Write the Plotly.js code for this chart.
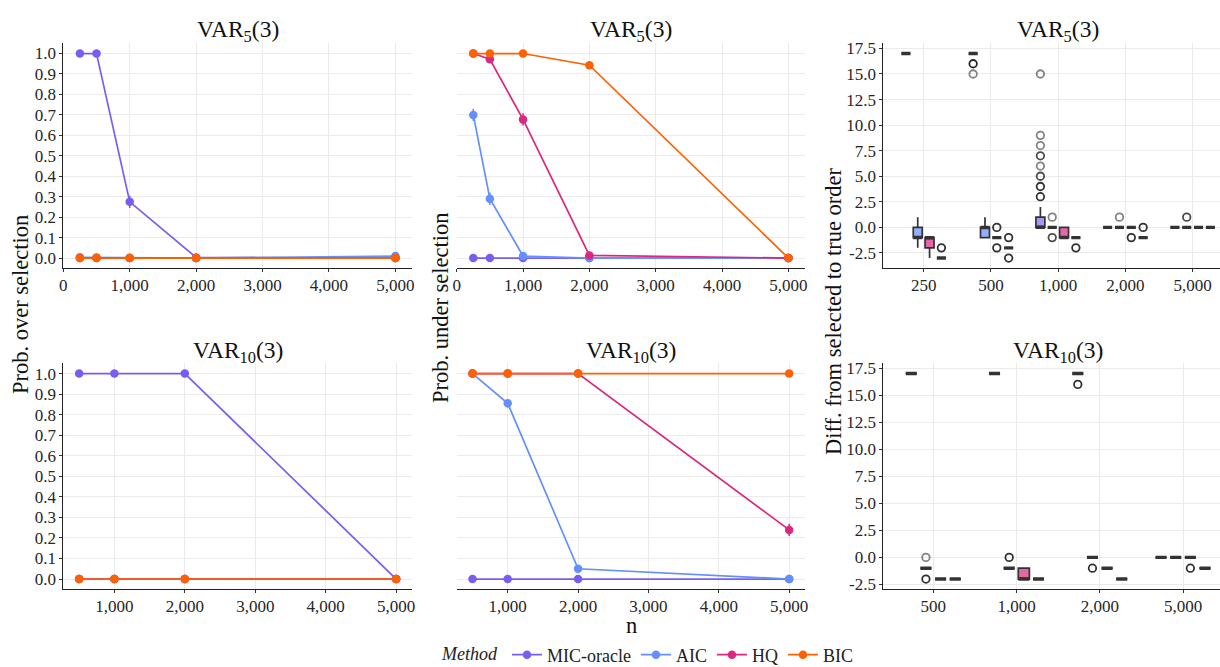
<!DOCTYPE html>
<html>
<head>
<meta charset="utf-8">
<script src="https://cdn.plot.ly/plotly-3.0.1.min.js"></script>
<style>html,body{margin:0;padding:0;background:#fff;}#chart{width:1220px;height:667px;}</style>
</head>
<body>
<div id="chart"></div>
<script>
// ---------------- DATA ----------------
const methods = ['MIC-oracle', 'AIC', 'HQ', 'BIC'];
const nVar5 = [250, 500, 1000, 2000, 5000];
const nVar10 = [500, 1000, 2000, 5000];
const nVar5Labels = ['250', '500', '1,000', '2,000', '5,000'];
const nVar10Labels = ['500', '1,000', '2,000', '5,000'];

// Prob. over selection, VAR5(3)
const overV5_MIC = [1.0, 1.0, 0.275, 0.003, 0.0];
const overV5_AIC = [0.004, 0.003, 0.002, 0.0, 0.01];
const overV5_HQ  = [0.0, 0.0, 0.0, 0.0, 0.0];
const overV5_BIC = [0.0, 0.0, 0.0, 0.0, 0.0];
const overV5_MIC_err = [0, 0, 0.03, 0.003, 0];
// Prob. under selection, VAR5(3)
const underV5_MIC = [0.0, 0.0, 0.0, 0.0, 0.0];
const underV5_AIC = [0.70, 0.29, 0.01, 0.0, 0.0];
const underV5_HQ  = [1.0, 0.972, 0.678, 0.013, 0.0];
const underV5_BIC = [1.0, 1.0, 1.0, 0.943, 0.0];
const underV5_AIC_err = [0.03, 0.03, 0.006, 0, 0];
const underV5_HQ_err  = [0, 0.01, 0.03, 0.007, 0];
const underV5_BIC_err = [0, 0, 0, 0.015, 0];
// Prob. over selection, VAR10(3)
const overV10_MIC = [1.0, 1.0, 1.0, 0.0];
const overV10_AIC = [0.0, 0.0, 0.0, 0.0];
const overV10_HQ  = [0.0, 0.0, 0.0, 0.0];
const overV10_BIC = [0.0, 0.0, 0.0, 0.0];
// Prob. under selection, VAR10(3)
const underV10_MIC = [0.0, 0.0, 0.0, 0.0];
const underV10_AIC = [1.0, 0.855, 0.05, 0.0];
const underV10_HQ  = [1.0, 1.0, 1.0, 0.239];
const underV10_BIC = [1.0, 1.0, 1.0, 1.0];
const underV10_AIC_err = [0, 0.02, 0.014, 0];
const underV10_HQ_err  = [0, 0, 0, 0.03];

// Diff. from selected to true order, VAR5(3): box stats per n
const diffV5_MIC_low = [17, 17, 0, 0, 0];
const diffV5_MIC_q1  = [17, 17, 0, 0, 0];
const diffV5_MIC_med = [17, 17, 0, 0, 0];
const diffV5_MIC_q3  = [17, 17, 1, 0, 0];
const diffV5_MIC_up  = [17, 17, 2, 0, 0];
const diffV5_AIC_low = [-2, -1, 0, 0, 0];
const diffV5_AIC_q1  = [-1, -1, 0, 0, 0];
const diffV5_AIC_med = [-1, 0, 0, 0, 0];
const diffV5_AIC_q3  = [0, 0, 0, 0, 0];
const diffV5_AIC_up  = [1, 1, 0, 0, 0];
const diffV5_HQ_low  = [-3, -1, -1, 0, 0];
const diffV5_HQ_q1   = [-2, -1, -1, 0, 0];
const diffV5_HQ_med  = [-1, -1, -1, 0, 0];
const diffV5_HQ_q3   = [-1, -1, 0, 0, 0];
const diffV5_HQ_up   = [-1, -1, 0, 0, 0];
const diffV5_BIC_low = [-3, -2, -1, -1, 0];
const diffV5_BIC_q1  = [-3, -2, -1, -1, 0];
const diffV5_BIC_med = [-3, -2, -1, -1, 0];
const diffV5_BIC_q3  = [-3, -2, -1, -1, 0];
const diffV5_BIC_up  = [-3, -2, -1, -1, 0];
// outliers VAR5(3): category index, value, number of overlapping points
const outV5_MIC_cat = [1, 1, 2, 2, 2, 2, 2, 2, 2, 2];
const outV5_MIC_val = [16, 15, 3, 4, 5, 6, 7, 8, 9, 15];
const outV5_MIC_cnt = [4, 1, 3, 3, 2, 1, 2, 1, 1, 1];
const outV5_AIC_cat = [2, 2, 3, 4];
const outV5_AIC_val = [1, -1, 1, 1];
const outV5_AIC_cnt = [1, 2, 1, 2];
const outV5_HQ_cat  = [1, 1, 3];
const outV5_HQ_val  = [0, -2, -1];
const outV5_HQ_cnt  = [3, 3, 3];
const outV5_BIC_cat = [0, 1, 1, 2, 3];
const outV5_BIC_val = [-2, -1, -3, -2, 0];
const outV5_BIC_cnt = [3, 3, 3, 3, 3];

// Diff. from selected to true order, VAR10(3)
const diffV10_MIC_low = [17, 17, 17, 0];
const diffV10_MIC_q1  = [17, 17, 17, 0];
const diffV10_MIC_med = [17, 17, 17, 0];
const diffV10_MIC_q3  = [17, 17, 17, 0];
const diffV10_MIC_up  = [17, 17, 17, 0];
const diffV10_AIC_low = [-1, -1, 0, 0];
const diffV10_AIC_q1  = [-1, -1, 0, 0];
const diffV10_AIC_med = [-1, -1, 0, 0];
const diffV10_AIC_q3  = [-1, -1, 0, 0];
const diffV10_AIC_up  = [-1, -1, 0, 0];
const diffV10_HQ_low  = [-2, -2, -1, 0];
const diffV10_HQ_q1   = [-2, -2, -1, 0];
const diffV10_HQ_med  = [-2, -2, -1, 0];
const diffV10_HQ_q3   = [-2, -1, -1, 0];
const diffV10_HQ_up   = [-2, -1, -1, 0];
const diffV10_BIC_low = [-2, -2, -2, -1];
const diffV10_BIC_q1  = [-2, -2, -2, -1];
const diffV10_BIC_med = [-2, -2, -2, -1];
const diffV10_BIC_q3  = [-2, -2, -2, -1];
const diffV10_BIC_up  = [-2, -2, -2, -1];
const outV10_MIC_cat = [2];
const outV10_MIC_val = [16];
const outV10_MIC_cnt = [3];
const outV10_AIC_cat = [0, 0, 1, 2];
const outV10_AIC_val = [0, -2, 0, -1];
const outV10_AIC_cnt = [1, 3, 3, 3];
const outV10_HQ_cat  = [3];
const outV10_HQ_val  = [-1];
const outV10_HQ_cnt  = [3];
const outV10_BIC_cat = [];
const outV10_BIC_val = [];
const outV10_BIC_cnt = [];

const probTicks = [0, 0.1, 0.2, 0.3, 0.4, 0.5, 0.6, 0.7, 0.8, 0.9, 1.0];
const diffTicks = [-2.5, 0, 2.5, 5, 7.5, 10, 12.5, 15, 17.5];

// ---------------- STYLE ----------------
const colors = ['#785EF0', '#648FFF', '#DC267F', '#FE6100'];
const fills = ['rgba(120,94,240,0.65)', 'rgba(100,143,255,0.7)', 'rgba(220,38,127,0.7)', 'rgba(254,97,0,0.7)'];
const FONT = 'Liberation Serif, serif';
const W = 1220, H = 667;
const px = v => v / W;
const py = v => 1 - v / H;
const dodge = 0.176, boxW = 0.133;

const traces = [];

function addLines(xs, series, errs, xa, ya, legend) {
  series.forEach((ys, i) => {
    const t = {
      type: 'scatter', mode: 'lines+markers', x: xs, y: ys, xaxis: xa, yaxis: ya,
      name: methods[i], legendgroup: methods[i], showlegend: legend,
      line: {color: colors[i], width: 1.7},
      marker: {color: colors[i], size: 8.5},
      hoverinfo: 'x+y+name'
    };
    if (errs[i]) t.error_y = {type: 'data', array: errs[i], visible: true, width: 0, thickness: 1.5, color: colors[i]};
    traces.push(t);
  });
}

addLines(nVar5, [overV5_MIC, overV5_AIC, overV5_HQ, overV5_BIC], [overV5_MIC_err, null, null, null], 'x', 'y', true);
addLines(nVar5, [underV5_MIC, underV5_AIC, underV5_HQ, underV5_BIC], [null, underV5_AIC_err, underV5_HQ_err, underV5_BIC_err], 'x2', 'y2', false);
addLines(nVar10, [overV10_MIC, overV10_AIC, overV10_HQ, overV10_BIC], [null, null, null, null], 'x4', 'y4', false);
addLines(nVar10, [underV10_MIC, underV10_AIC, underV10_HQ, underV10_BIC], [null, underV10_AIC_err, underV10_HQ_err, null], 'x5', 'y5', false);

function addBoxes(nCat, stats, outs, xa, ya, medPx) {
  const medTraces = [];
  stats.forEach((s, i) => {
    const pos = [];
    for (let c = 0; c < nCat; c++) pos.push(c + 1 + (i - 1.5) * dodge);
    traces.push({
      type: 'box', x: pos, xaxis: xa, yaxis: ya,
      lowerfence: s[0], q1: s[1], median: s[2], q3: s[3], upperfence: s[4],
      width: boxW, whiskerwidth: 0, boxpoints: false,
      fillcolor: fills[i], line: {color: '#333333', width: 1.7},
      showlegend: false, hoverinfo: 'y'
    });
    medTraces.push({
      type: 'scatter', mode: 'markers', x: pos, y: s[2], xaxis: xa, yaxis: ya,
      // 'line-ew' spans 1.4 x size pixels
      marker: {symbol: 'line-ew', size: medPx / 1.4, line: {width: 3.4, color: '#333333'}},
      showlegend: false, hoverinfo: 'skip'
    });
  });
  medTraces.forEach(t => traces.push(t));
  outs.forEach((o, i) => {
    traces.push({
      type: 'scatter', mode: 'markers', xaxis: xa, yaxis: ya,
      x: o[0].map(c => c + 1 + (i - 1.5) * dodge), y: o[1],
      marker: {symbol: 'circle-open', size: 7.5,
               color: o[2].map(k => 'rgba(30,30,30,' + (1 - Math.pow(0.45, k)).toFixed(3) + ')'),
               line: {width: 1.8}},
      showlegend: false, hoverinfo: 'y'
    });
  });
}

addBoxes(5,
  [[diffV5_MIC_low, diffV5_MIC_q1, diffV5_MIC_med, diffV5_MIC_q3, diffV5_MIC_up],
   [diffV5_AIC_low, diffV5_AIC_q1, diffV5_AIC_med, diffV5_AIC_q3, diffV5_AIC_up],
   [diffV5_HQ_low, diffV5_HQ_q1, diffV5_HQ_med, diffV5_HQ_q3, diffV5_HQ_up],
   [diffV5_BIC_low, diffV5_BIC_q1, diffV5_BIC_med, diffV5_BIC_q3, diffV5_BIC_up]],
  [[outV5_MIC_cat, outV5_MIC_val, outV5_MIC_cnt],
   [outV5_AIC_cat, outV5_AIC_val, outV5_AIC_cnt],
   [outV5_HQ_cat, outV5_HQ_val, outV5_HQ_cnt],
   [outV5_BIC_cat, outV5_BIC_val, outV5_BIC_cnt]], 'x3', 'y3', 9);
addBoxes(4,
  [[diffV10_MIC_low, diffV10_MIC_q1, diffV10_MIC_med, diffV10_MIC_q3, diffV10_MIC_up],
   [diffV10_AIC_low, diffV10_AIC_q1, diffV10_AIC_med, diffV10_AIC_q3, diffV10_AIC_up],
   [diffV10_HQ_low, diffV10_HQ_q1, diffV10_HQ_med, diffV10_HQ_q3, diffV10_HQ_up],
   [diffV10_BIC_low, diffV10_BIC_q1, diffV10_BIC_med, diffV10_BIC_q3, diffV10_BIC_up]],
  [[outV10_MIC_cat, outV10_MIC_val, outV10_MIC_cnt],
   [outV10_AIC_cat, outV10_AIC_val, outV10_AIC_cnt],
   [outV10_HQ_cat, outV10_HQ_val, outV10_HQ_cnt],
   [outV10_BIC_cat, outV10_BIC_val, outV10_BIC_cnt]], 'x6', 'y6', 11);

// ---------------- LAYOUT ----------------
const tickFont = {family: FONT, size: 17, color: '#262626'};
const base = {
  showgrid: true, gridcolor: '#ebebeb', gridwidth: 1, zeroline: false,
  showline: true, linecolor: '#222222', linewidth: 1,
  ticks: 'outside', ticklen: 3, tickcolor: '#333333', tickwidth: 1,
  tickfont: tickFont, fixedrange: true
};
const baseX = Object.assign({}, base, {ticklabelstandoff: -2});
const colX = [[63.3, 412], [456.7, 805], [883.3, 1220]];
const rowY = [[43.3, 268.3], [363.3, 589.3]];
const dom = c => [px(colX[c][0]), px(colX[c][1])];
const domY = r => [py(rowY[r][1]), py(rowY[r][0])];

const probY = (r, labels) => Object.assign({}, base, {
  domain: domY(r), range: [-0.05, 1.05], tickvals: probTicks,
  ticktext: probTicks.map(v => v.toFixed(1)),
  showticklabels: labels, showline: labels, ticks: labels ? 'outside' : ''
});
const diffY = (r, range) => Object.assign({}, base, {
  domain: domY(r), range: range, tickvals: diffTicks,
  ticktext: diffTicks.map(v => v.toFixed(1))
});

const layout = {
  width: W, height: H,
  margin: {l: 0, r: 0, t: 0, b: 0, autoexpand: false},
  paper_bgcolor: '#ffffff', plot_bgcolor: '#ffffff',
  font: {family: FONT, size: 17, color: '#222222'},
  boxmode: 'overlay',
  xaxis:  Object.assign({}, baseX, {domain: dom(0), anchor: 'y',  range: [0, 5250], tickvals: [0, 1000, 2000, 3000, 4000, 5000], tickformat: ','}),
  yaxis:  Object.assign(probY(0, true), {anchor: 'x'}),
  xaxis2: Object.assign({}, baseX, {domain: dom(1), anchor: 'y2', range: [0, 5250], tickvals: [0, 1000, 2000, 3000, 4000, 5000], tickformat: ','}),
  yaxis2: Object.assign(probY(0, false), {anchor: 'x2'}),
  xaxis3: Object.assign({}, baseX, {domain: dom(2), anchor: 'y3', range: [0.4, 5.407], tickvals: [1, 2, 3, 4, 5], ticktext: nVar5Labels}),
  yaxis3: Object.assign(diffY(0, [-4, 18]), {anchor: 'x3'}),
  xaxis4: Object.assign({}, baseX, {domain: dom(0), anchor: 'y4', range: [275, 5225], tickvals: [1000, 2000, 3000, 4000, 5000], tickformat: ','}),
  yaxis4: Object.assign(probY(1, true), {anchor: 'x4'}),
  xaxis5: Object.assign({}, baseX, {domain: dom(1), anchor: 'y5', range: [275, 5225], tickvals: [1000, 2000, 3000, 4000, 5000], tickformat: ','}),
  yaxis5: Object.assign(probY(1, false), {anchor: 'x5'}),
  xaxis6: Object.assign({}, baseX, {domain: dom(2), anchor: 'y6', range: [0.4, 4.444], tickvals: [1, 2, 3, 4], ticktext: nVar10Labels}),
  yaxis6: Object.assign(diffY(1, [-2.95, 17.95]), {anchor: 'x6'}),
  legend: {
    orientation: 'h', x: px(649), xanchor: 'center', y: py(655), yanchor: 'middle',
    font: {family: FONT, size: 18, color: '#222'},
    title: {text: '<i>Method</i>', side: 'left', font: {family: FONT, size: 18, color: '#222'}},
    bgcolor: 'rgba(0,0,0,0)', itemclick: false, itemdoubleclick: false
  },
  annotations: []
};

const titleFont = {family: FONT, size: 23.5, color: '#111'};
const titles = [
  ['VAR<sub>5</sub>(3)', 237.5, 30.5], ['VAR<sub>5</sub>(3)', 631, 30.5], ['VAR<sub>5</sub>(3)', 1058, 30.5],
  ['VAR<sub>10</sub>(3)', 237.5, 351.5], ['VAR<sub>10</sub>(3)', 631, 351.5], ['VAR<sub>10</sub>(3)', 1058, 351.5]
];
titles.forEach(t => layout.annotations.push({
  text: t[0], x: px(t[1]), y: py(t[2]), xref: 'paper', yref: 'paper',
  xanchor: 'center', yanchor: 'middle', showarrow: false, font: titleFont
}));
const axTitleFont = {family: FONT, size: 22.5, color: '#111'};
[['Prob. over selection', 20, 305], ['Prob. under selection', 440, 308], ['Diff. from selected to true order', 833, 311]]
  .forEach(t => layout.annotations.push({
    text: t[0], x: px(t[1]), y: py(t[2]), xref: 'paper', yref: 'paper', textangle: -90,
    xanchor: 'center', yanchor: 'middle', showarrow: false, font: axTitleFont
  }));
layout.annotations.push({text: 'n', x: px(631), y: py(625), xref: 'paper', yref: 'paper',
  xanchor: 'center', yanchor: 'middle', showarrow: false, font: axTitleFont});

Plotly.newPlot('chart', traces, layout, {displayModeBar: false, staticPlot: true});
</script>
</body>
</html>
